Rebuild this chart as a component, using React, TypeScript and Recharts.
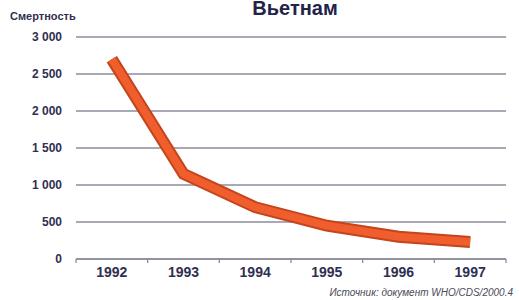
import { LineChart, Line, XAxis, YAxis, CartesianGrid } from "recharts";

const years = ["1992", "1993", "1994", "1995", "1996", "1997"];
const deaths = [2700, 1150, 700, 450, 300, 230];
const yTicks = [0, 500, 1000, 1500, 2000, 2500, 3000];

const data = years.map((year, i) => ({ year, deaths: deaths[i] }));

const ink = "#2f2f52";
const gridColor = "#8c8c9c";

function fmt(v: number) {
  return v.toString().replace(/\B(?=(\d{3})+(?!\d))/g, " ");
}

function YearTick(props: any) {
  const { x, y, payload, index } = props;
  const half = payload?.offset ?? 35.8;
  const last = index === years.length - 1;
  return (
    <g>
      <line x1={x - half} x2={x - half} y1={y - 8} y2={y - 4} stroke={gridColor} strokeWidth={1.3} />
      {last && <line x1={x + half} x2={x + half} y1={y - 8} y2={y - 4} stroke={gridColor} strokeWidth={1.3} />}
      <text x={x} y={y + 10} textAnchor="middle" fontSize={14} fontWeight="bold" fill={ink} fontFamily="Liberation Sans, Arial, sans-serif">
        {payload.value}
      </text>
    </g>
  );
}

function App() {
  return (
    <div style={{ position: "fixed", left: 0, top: 0, width: 519, height: 300, background: "#fff", overflow: "hidden", fontFamily: "Liberation Sans, Arial, sans-serif" }}>
      <div style={{ position: "absolute", left: 0, width: 590, top: 0, textAlign: "center", fontSize: 20, lineHeight: "17px", fontWeight: 900, color: "#23234a" }}>
        Вьетнам
      </div>
      <div style={{ position: "absolute", left: 10, top: 10, fontSize: 11, fontWeight: "bold", color: ink }}>
        Смертность
      </div>
      <LineChart width={519} height={300} data={data} margin={{ top: 37, right: 13, left: 0, bottom: 11 }}>
        <CartesianGrid horizontal vertical={false} stroke={gridColor} strokeWidth={1.3} />
        <XAxis
          dataKey="year"
          scale="band"
          axisLine={{ stroke: gridColor, strokeWidth: 1.3 }}
          tickLine={false}
          tick={<YearTick />}
          interval={0}
        />
        <YAxis
          domain={[0, 3000]}
          ticks={yTicks}
          width={76}
          axisLine={false}
          tickLine={false}
          tickMargin={8}
          tickFormatter={fmt}
          tick={{ fontSize: 12, fontWeight: "bold", fill: ink }}
        />
        <Line
          dataKey="deaths"
          stroke="#c4451d"
          strokeWidth={12}
          strokeLinejoin="miter"
          strokeLinecap="butt"
          dot={false}
          activeDot={false}
          isAnimationActive={false}
        />
        <Line
          dataKey="deaths"
          stroke="#ef5e2c"
          strokeWidth={8}
          strokeLinejoin="miter"
          strokeLinecap="butt"
          dot={false}
          activeDot={false}
          isAnimationActive={false}
        />
      </LineChart>
      <div style={{ position: "absolute", right: 6, top: 287, fontSize: 10, color: "#4a4a5a", fontStyle: "italic" }}>
        Источник: документ WHO/CDS/2000.4
      </div>
    </div>
  );
}

export default App;
